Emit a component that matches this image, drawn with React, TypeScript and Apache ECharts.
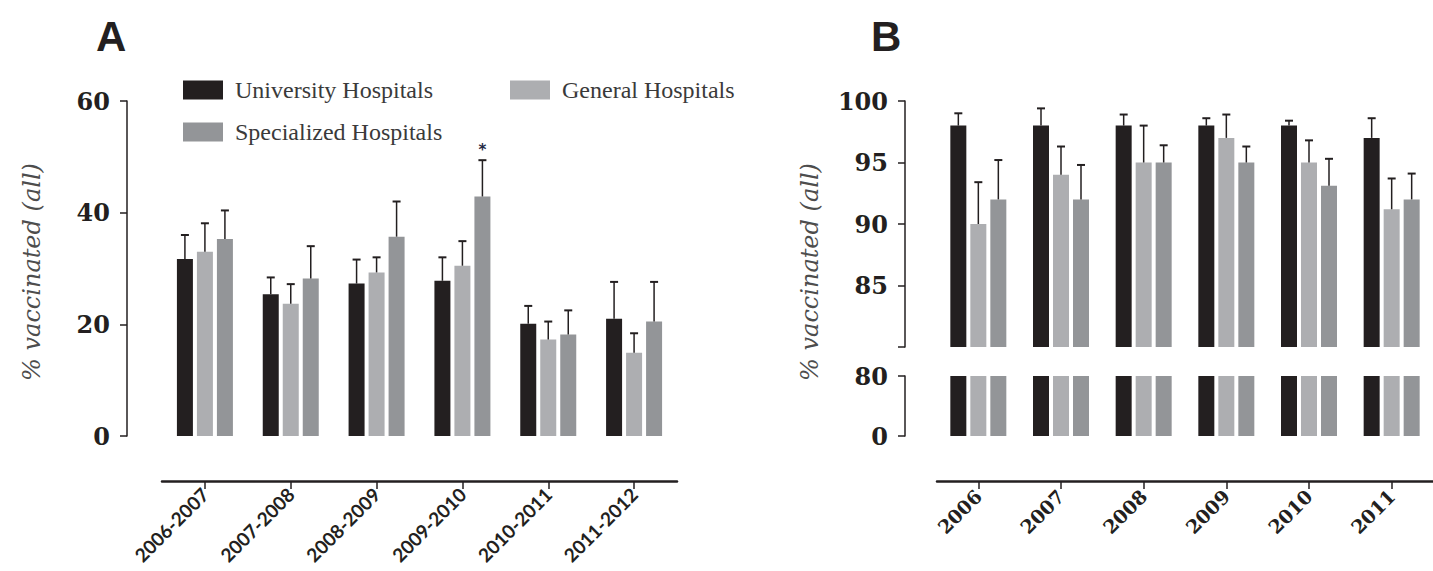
import React, { useEffect, useRef } from "react";
import * as echarts from "echarts";

// ---------- data ----------
const seasonsA = ["2006-2007", "2007-2008", "2008-2009", "2009-2010", "2010-2011", "2011-2012"];
const yearsB = ["2006", "2007", "2008", "2009", "2010", "2011"];
const hospitalTypes = ["University Hospitals", "General Hospitals", "Specialized Hospitals"];

// Panel A: mean % vaccinated and upper error (SD)
const aUniversity = [31.7, 25.4, 27.3, 27.8, 20.1, 21.0];
const aUniversityErr = [4.3, 3.0, 4.3, 4.2, 3.2, 6.6];
const aGeneral = [33.0, 23.7, 29.3, 30.5, 17.3, 14.9];
const aGeneralErr = [5.1, 3.5, 2.7, 4.4, 3.2, 3.5];
const aSpecialized = [35.3, 28.2, 35.7, 42.9, 18.2, 20.5];
const aSpecializedErr = [5.1, 5.8, 6.3, 6.5, 4.3, 7.1];
const aSignificant = [false, false, false, true, false, false];

// Panel B
const bUniversity = [98.0, 98.0, 98.0, 98.0, 98.0, 97.0];
const bUniversityErr = [1.0, 1.4, 0.9, 0.6, 0.4, 1.6];
const bGeneral = [90.0, 94.0, 95.0, 97.0, 95.0, 91.2];
const bGeneralErr = [3.4, 2.3, 3.0, 1.9, 1.8, 2.5];
const bSpecialized = [92.0, 92.0, 95.0, 95.0, 93.1, 92.0];
const bSpecializedErr = [3.2, 2.8, 1.4, 1.3, 2.2, 2.1];

const ticksA = { min: 0, max: 60, interval: 20 };
const ticksBUpper = { min: 80, max: 100, interval: 5 };
const ticksBLower = { min: 0, max: 80, interval: 80 };

// ---------- styles ----------
const colors = ["#231f20", "#adaeb1", "#939598"];
const ink = "#231f20";
const BAR_W = 16;
const BAR_STEP = 20;

const App: React.FC = () => {
  const ref = useRef<HTMLDivElement>(null);

  useEffect(() => {
    if (!ref.current) return;
    const chart = echarts.init(ref.current, null, { renderer: "svg" });

    const aMeans = [aUniversity, aGeneral, aSpecialized];
    const aErrs = [aUniversityErr, aGeneralErr, aSpecializedErr];
    const bMeans = [bUniversity, bGeneral, bSpecialized];
    const bErrs = [bUniversityErr, bGeneralErr, bSpecializedErr];

    const yLabel = {
      color: ink,
      fontFamily: "DejaVu Serif",
      fontWeight: "bold" as const,
      fontSize: 24,
      margin: 17,
    };
    const yAxisCommon = {
      type: "value" as const,
      axisLine: { show: true, onZero: false, lineStyle: { color: ink, width: 1.5 } },
      axisTick: { show: true, length: 7, lineStyle: { color: ink, width: 1.5 } },
      splitLine: { show: false },
    };

    const errorSeries = (k: number, means: number[], errs: number[], xi: number, yi: number, stars?: boolean[]) => ({
      type: "custom" as const,
      xAxisIndex: xi,
      yAxisIndex: yi,
      z: 5,
      silent: true,
      clip: false,
      data: means.map((m, i) => [i, m, m + errs[i]]),
      renderItem: (params: any, api: any) => {
        const i = api.value(0);
        const base = api.coord([i, api.value(1)]);
        const top = api.coord([i, api.value(2)]);
        const x = base[0] + (k - 1) * BAR_STEP;
        const children: any[] = [
          { type: "line", shape: { x1: x, y1: base[1], x2: x, y2: top[1] }, style: { stroke: ink, lineWidth: 1.5 } },
          { type: "line", shape: { x1: x - 4, y1: top[1], x2: x + 4, y2: top[1] }, style: { stroke: ink, lineWidth: 2 } },
        ];
        if (stars && stars[i]) {
          children.push({
            type: "text",
            x: x,
            y: top[1] - 3,
            style: { text: "*", fill: "#1f2a44", font: "bold 15px 'DejaVu Sans'", textAlign: "center", textVerticalAlign: "bottom" },
          });
        }
        return { type: "group", children };
      },
    });

    const series: any[] = [];
    hospitalTypes.forEach((name, k) => {
      series.push({
        name, type: "bar", xAxisIndex: 0, yAxisIndex: 0, data: aMeans[k],
        barWidth: BAR_W, barGap: "25%", itemStyle: { color: colors[k] },
      });
      series.push({
        name, type: "bar", xAxisIndex: 1, yAxisIndex: 1, data: bMeans[k], clip: true,
        barWidth: BAR_W, barGap: "25%", itemStyle: { color: colors[k] },
      });
      series.push({
        name, type: "bar", xAxisIndex: 2, yAxisIndex: 2, data: bMeans[k], clip: true,
        barWidth: BAR_W, barGap: "25%", itemStyle: { color: colors[k] },
      });
    });
    hospitalTypes.forEach((_, k) => {
      series.push(errorSeries(k, aMeans[k], aErrs[k], 0, 0, k === 2 ? aSignificant : undefined));
      series.push(errorSeries(k, bMeans[k], bErrs[k], 1, 1));
    });

    const legendText = { color: "#3a3a3a", fontFamily: "Liberation Serif", fontSize: 24, padding: [0, 0, 0, 7] };
    const legendBase = { orient: "horizontal" as const, itemWidth: 40, itemHeight: 19, icon: "rect", textStyle: legendText, selectedMode: false, padding: 0 };

    const xLabelA = { rotate: 45, interval: 0, margin: 10, color: ink, fontFamily: "Lato", fontWeight: "bold", fontSize: 19 };
    const xLabelB = { rotate: 45, interval: 0, margin: 12, color: ink, fontFamily: "DejaVu Serif", fontWeight: "bold", fontSize: 19 };
    const xLine = { show: true, onZero: false, lineStyle: { color: ink, width: 2.5 } };
    const xTick = { show: true, alignWithLabel: true, length: 8, lineStyle: { color: ink, width: 1.5 } };

    const option: any = {
      animation: false,
      backgroundColor: "#ffffff",
      title: [
        { text: "A", left: 91, top: 10, textStyle: { fontSize: 42, fontWeight: "bold", fontFamily: "Liberation Sans", color: ink } },
        { text: "B", left: 866, top: 10, textStyle: { fontSize: 42, fontWeight: "bold", fontFamily: "Liberation Sans", color: ink } },
      ],
      legend: [
        { ...legendBase, data: [hospitalTypes[0]], left: 183, top: 78 },
        { ...legendBase, data: [hospitalTypes[1]], left: 510, top: 78 },
        { ...legendBase, data: [hospitalTypes[2]], left: 183, top: 120 },
      ],
      grid: [
        { left: 162, top: 101, width: 515, height: 335 },
        { left: 937, top: 101, width: 514, height: 246 },
        { left: 937, top: 376, width: 514, height: 60 },
      ],
      xAxis: [
        { gridIndex: 0, type: "category", data: seasonsA, offset: 45, axisLine: xLine, axisTick: xTick, axisLabel: xLabelA },
        { gridIndex: 1, type: "category", data: yearsB, show: false },
        { gridIndex: 2, type: "category", data: yearsB, offset: 45, axisLine: xLine, axisTick: xTick, axisLabel: xLabelB },
      ],
      yAxis: [
        { ...yAxisCommon, gridIndex: 0, ...ticksA, offset: 35, axisLabel: yLabel },
        {
          ...yAxisCommon, gridIndex: 1, ...ticksBUpper, offset: 32,
          axisLabel: { ...yLabel, formatter: (v: number) => (v === ticksBUpper.min ? "" : String(v)) },
        },
        { ...yAxisCommon, gridIndex: 2, ...ticksBLower, offset: 32, axisLabel: yLabel },
      ],
      graphic: [
        {
          type: "text", x: 32, y: 272, rotation: Math.PI / 2,
          style: { text: "% vaccinated (all)", font: "italic 24px 'DejaVu Serif'", fill: "#4d4d4d", textAlign: "center", textVerticalAlign: "middle" },
        },
        {
          type: "text", x: 810, y: 272, rotation: Math.PI / 2,
          style: { text: "% vaccinated (all)", font: "italic 24px 'DejaVu Serif'", fill: "#4d4d4d", textAlign: "center", textVerticalAlign: "middle" },
        },
      ],
      series,
    };

    chart.setOption(option);
    return () => chart.dispose();
  }, []);

  return <div ref={ref} style={{ position: "fixed", left: 0, top: 0, width: 1433, height: 571, background: "#fff" }} />;
};

export default App;
